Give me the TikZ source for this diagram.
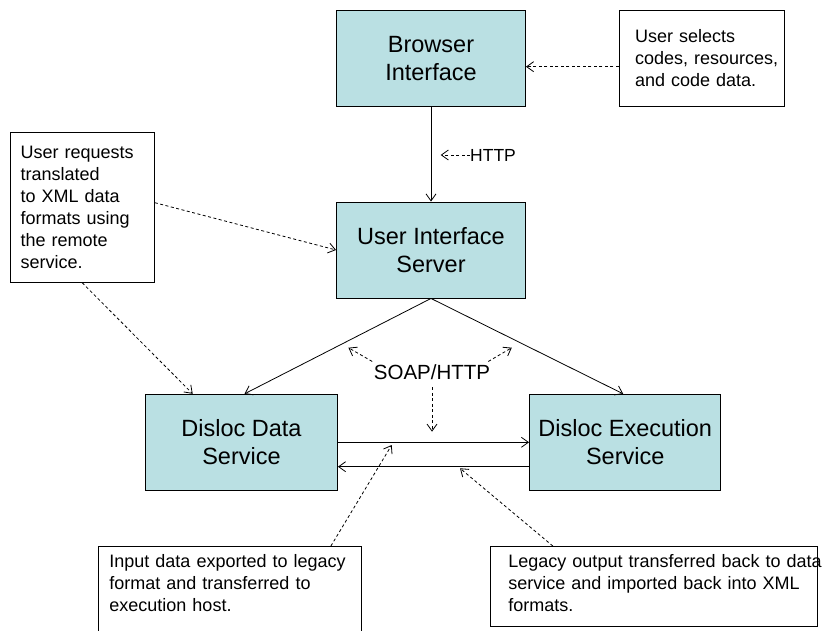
\documentclass[tikz,border=0pt]{standalone}
\usepackage{fontspec}
\setmainfont{Liberation Sans}
\usetikzlibrary{arrows.meta}
\definecolor{boxfill}{RGB}{186,224,227}
\begin{document}
\begin{tikzpicture}[x=1pt,y=-1pt,
  svc/.style={draw=black, line width=0.9pt, fill=boxfill, minimum width=189pt, minimum height=96pt, inner sep=0pt, align=center, font=\fontsize{23.5}{28}\selectfont},
  note/.style={draw=black, line width=0.9pt, fill=white, align=left, font=\fontsize{18}{22}\selectfont, inner ysep=0pt},
  conn/.style={line width=0.8pt, -{Straight Barb[length=7pt,width=10pt]}},
  dconn/.style={conn, dash pattern=on 3pt off 2.5pt},
  lbl/.style={inner sep=0pt}
]
\clip (0,0) rectangle (832,631);
% service boxes
\node[svc] (bi) at (431,58.5) {Browser\\Interface};
\node[svc] (uis) at (431,250) {User Interface\\Server};
\node[svc, minimum width=192pt] (dds) at (241.5,442.3) {Disloc Data\\Service};
\node[svc, minimum width=191.4pt] (des) at (625.2,442.3) {Disloc Execution\\Service};
% notes
\node[note, minimum width=165pt, minimum height=95.6pt, inner xsep=15.7pt, text width=133.6pt] (n1) at (701.8,58.5)
  {\mbox{User selects}\\\mbox{codes, resources,}\\\mbox{and code data.}};
\node[note, minimum width=144.3pt, minimum height=149.6pt, inner xsep=10.7pt, text width=123pt] (n2) at (82.2,207.5)
  {\mbox{User requests}\\\mbox{translated}\\\mbox{to XML data}\\\mbox{formats using}\\\mbox{the remote}\\\mbox{service.}};
\node[note, anchor=north west, inner xsep=11pt, inner ysep=8pt, text width=241pt, text height=13pt, text depth=84.5pt] (n3) at (98,546)
  {\mbox{Input data exported to legacy}\\\mbox{format and transferred to}\\\mbox{execution host.}};
\node[note, anchor=north west, inner xsep=18pt, inner ysep=8pt, text width=291pt, text height=13pt, text depth=50.5pt] (n4) at (490,546)
  {\mbox{Legacy output transferred back to data}\\\mbox{service and imported back into XML}\\\mbox{formats.}};
% labels
\node[lbl, anchor=west, font=\fontsize{17.5}{20}\selectfont] (http) at (470,155) {HTTP};
\node[lbl, font=\fontsize{20.5}{24}\selectfont] (soap) at (432,371.7) {SOAP/HTTP};
% free ends
\coordinate (httptip) at (440.7,155);
\coordinate (soapL) at (348.4,347.7);
\coordinate (soapR) at (511.8,347.7);
\coordinate (soapD) at (432,431.7);
\coordinate (inTip) at (391.7,445);
\coordinate (outTip) at (460,468.3);
% connectors
\draw[dconn] ([yshift=-8.2pt]n1.west) -- ([yshift=-8.2pt]bi.east);
\draw[conn] (bi.south) -- (uis.north);
\draw[dconn] (http.west) -- (httptip);
\draw[dconn] ([yshift=4.8pt]n2.east) -- (uis.west);
\draw[dconn] (n2.south) -- ([xshift=-48.8pt]dds.north);
\draw[conn] (uis.south) -- ([xshift=3pt]dds.north);
\draw[conn] (uis.south) -- ([xshift=-2pt]des.north);
\draw[dconn] ([shift={(-1.5pt,2.5pt)}]soap.north west) -- (soapL);
\draw[dconn] ([shift={(-2pt,2.5pt)}]soap.north east) -- (soapR);
\draw[dconn] ([yshift=-8pt]soap.south) -- (soapD);
\draw[conn] (dds.east) -- (des.west);
\draw[conn] ([yshift=-24.4pt]des.west) -- ([yshift=-24.4pt]dds.east);
\draw[dconn] ([xshift=-31pt]n3.north east) -- (inTip);
\draw[dconn] ([xshift=62.8pt]n4.north west) -- (outTip);
\end{tikzpicture}
\end{document}
